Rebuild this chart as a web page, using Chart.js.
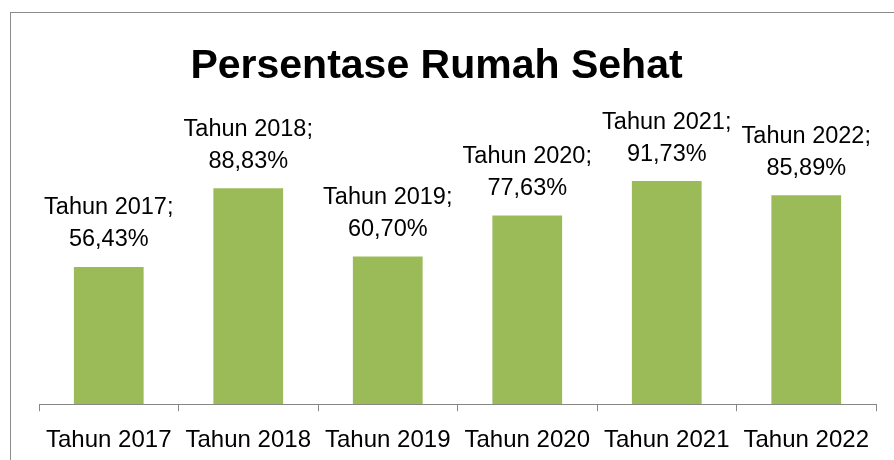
<!DOCTYPE html>
<html>
<head>
<meta charset="utf-8">
<script src="https://cdn.jsdelivr.net/npm/chart.js@4"></script>
<style>
html,body{margin:0;padding:0;background:#fff;}
#wrap{width:894px;height:460px;position:relative;}
</style>
</head>
<body>
<div id="wrap"><canvas id="c" width="894" height="460"></canvas></div>
<script>
const categories = ["Tahun 2017", "Tahun 2018", "Tahun 2019", "Tahun 2020", "Tahun 2021", "Tahun 2022"];
const values = [56.43, 88.83, 60.70, 77.63, 91.73, 85.89];
const valueLabels = ["56,43%", "88,83%", "60,70%", "77,63%", "91,73%", "85,89%"];
const titleText = "Persentase Rumah Sehat";

const FONT = "'Liberation Sans', Arial, sans-serif";

const frame = {
  id: 'frame',
  beforeDraw(chart) {
    const ctx = chart.ctx;
    ctx.save();
    ctx.fillStyle = '#fff';
    ctx.fillRect(0, 0, chart.width, chart.height);
    ctx.strokeStyle = '#8c8c8c';
    ctx.lineWidth = 1;
    ctx.strokeRect(10.5, 12.5, 900, 460);
    ctx.fillStyle = '#000';
    ctx.font = 'bold 41px ' + FONT;
    ctx.textAlign = 'center';
    ctx.textBaseline = 'alphabetic';
    ctx.fillText(titleText, 436.5, 78);
    ctx.restore();
  }
};

const dataLabels = {
  id: 'dataLabels',
  afterDatasetsDraw(chart) {
    const ctx = chart.ctx;
    const meta = chart.getDatasetMeta(0);
    ctx.save();
    ctx.fillStyle = '#000';
    ctx.font = '23.5px ' + FONT;
    ctx.textAlign = 'center';
    ctx.textBaseline = 'middle';
    meta.data.forEach((bar, i) => {
      ctx.fillText(categories[i] + ';', bar.x, bar.y - 59);
      ctx.fillText(valueLabels[i], bar.x, bar.y - 27);
    });
    ctx.restore();
  }
};

new Chart(document.getElementById('c'), {
  type: 'bar',
  data: {
    labels: categories,
    datasets: [{
      data: values,
      backgroundColor: '#9BBB59',
      borderWidth: 0,
      categoryPercentage: 1.0,
      barPercentage: 0.5
    }]
  },
  options: {
    responsive: false,
    animation: false,
    layout: { padding: { left: 39, right: 18, top: 161, bottom: -10 } },
    plugins: {
      legend: { display: false },
      tooltip: { enabled: false },
      title: { display: false }
    },
    scales: {
      y: { display: false, min: 0, max: 100 },
      x: {
        offset: true,
        grid: {
          display: true,
          offset: true,
          drawOnChartArea: false,
          drawTicks: true,
          tickLength: 7,
          color: '#868686'
        },
        border: { display: true, color: '#868686', width: 1 },
        ticks: {
          color: '#000',
          autoSkip: false,
          maxRotation: 0,
          padding: 15,
          font: { family: FONT, size: 24 }
        }
      }
    }
  },
  plugins: [frame, dataLabels]
});
</script>
</body>
</html>
